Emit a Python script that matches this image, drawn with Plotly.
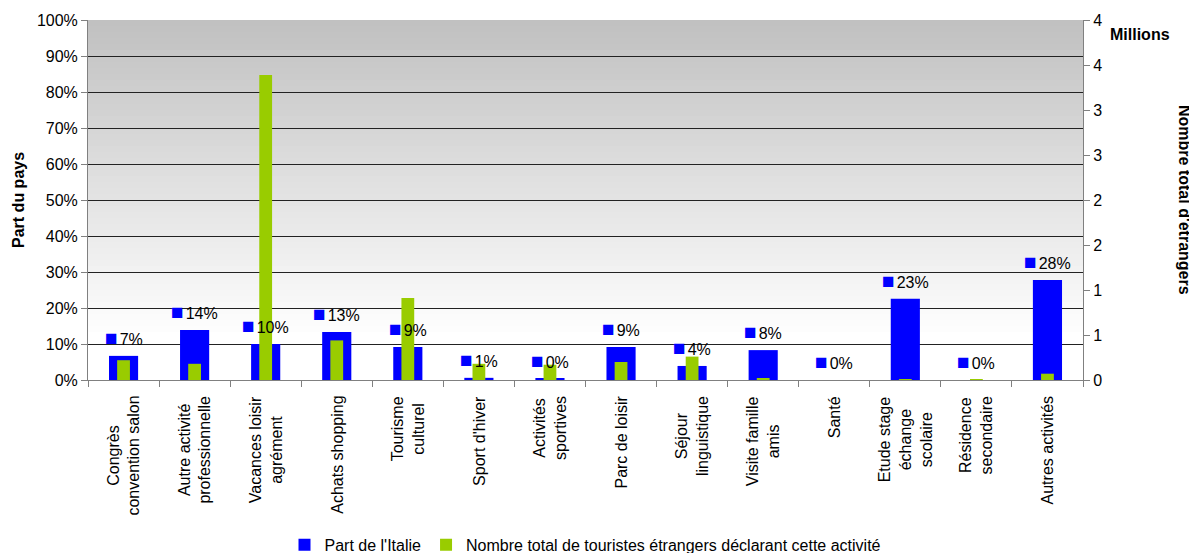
import plotly.graph_objects as go

categories = [
    "Congrès<br>convention salon",
    "Autre activité<br>professionnelle",
    "Vacances loisir<br>agrément",
    "Achats shopping",
    "Tourisme<br>culturel",
    "Sport d'hiver",
    "Activités<br>sportives",
    "Parc de loisir",
    "Séjour<br>linguistique",
    "Visite famille<br>amis",
    "Santé",
    "Etude stage<br>échange<br>scolaire",
    "Résidence<br>secondaire",
    "Autres activités",
]

# part de l'Italie (fraction)
part_italie = [0.067, 0.139, 0.100, 0.133, 0.092, 0.006, 0.003,
               0.092, 0.039, 0.083, 0.0, 0.226, 0.0, 0.278]

# nombre total de touristes étrangers (millions)
total_etrangers = [0.22, 0.18, 3.39, 0.44, 0.91, 0.18, 0.17,
                   0.20, 0.26, 0.02, 0.0, 0.005, 0.003, 0.07]

right_tickvals = [0, 0.5, 1, 1.5, 2, 2.5, 3, 3.5, 4]
right_ticktext = ["0", "1", "1", "2", "2", "3", "3", "4", "4"]

FONT = "Liberation Sans, Arial, sans-serif"
BLUE = "#0000FF"
GREEN = "#99CC00"

fig = go.Figure()

fig.add_trace(go.Bar(
    x=categories, y=part_italie, name="Part de l'Italie",
    marker=dict(color=BLUE, line=dict(width=0)), width=0.41,
    yaxis="y",
))
fig.add_trace(go.Bar(
    x=categories, y=total_etrangers,
    name="Nombre total de touristes étrangers déclarant cette activité",
    marker=dict(color=GREEN, line=dict(width=0)), width=0.18,
    yaxis="y2",
))

# data labels with legend key
for cat, v in zip(categories, part_italie):
    fig.add_annotation(
        x=cat, y=v, xref="x", yref="y", yanchor="bottom", yshift=5,
        text=(f'<span style="color:{BLUE};font-size:21px">■</span>'
              f'<span style="font-size:7px"> </span>{v:.0%}'),
        showarrow=False, font=dict(size=16, color="#000000", family=FONT),
    )

# category labels, rotated and centred line by line
for cat in categories:
    fig.add_annotation(
        x=cat, y=0, xref="x", yref="y", yanchor="top", xanchor="center",
        yshift=-14, text=cat, textangle=-90, align="center",
        showarrow=False, font=dict(size=16, color="#000000", family=FONT),
    )

# gradient background of the plot area
n = 60
for i in range(n):
    f = (i + 0.5) / n
    t = max(0.0, (f - 0.12) / 0.88)
    g = round(255 - 63 * t)
    fig.add_shape(
        type="rect", xref="paper", yref="paper",
        x0=0, x1=1, y0=i / n, y1=(i + 1) / n,
        fillcolor=f"rgb({g},{g},{g})", line=dict(width=0), layer="below",
    )

fig.add_annotation(
    x=-0.0704, y=0.5, xref="paper", yref="paper", text="<b>Part du pays</b>",
    xanchor="center", yanchor="middle",
    textangle=-90, showarrow=False, font=dict(size=16, family=FONT, color="#000"),
)
fig.add_annotation(
    x=1.1025, y=0.5, xref="paper", yref="paper",
    text="<b>Nombre total d'étrangers</b>", xanchor="center", yanchor="middle",
    textangle=90, showarrow=False, font=dict(size=16, family=FONT, color="#000"),
)
fig.add_annotation(
    x=1.057, y=0.961, xref="paper", yref="paper", text="<b>Millions</b>",
    xanchor="center", yanchor="middle",
    showarrow=False, font=dict(size=16, family=FONT, color="#000"),
)

# page body keeps an 8px margin, so the figure is 8px smaller each way
fig.update_layout(
    width=1189, height=545,
    margin=dict(l=80, r=114, t=12, b=173, autoexpand=False),
    paper_bgcolor="white", plot_bgcolor="rgba(0,0,0,0)",
    barmode="overlay", bargap=0.2,
    font=dict(family=FONT, size=16, color="#000"),
    showlegend=True,
    legend=dict(
        orientation="h", x=0.5, xanchor="center", y=-0.458, yanchor="middle",
        font=dict(size=16), itemwidth=30, tracegroupgap=0,
    ),
    xaxis=dict(
        tickson="boundaries", ticks="outside", ticklen=6,
        tickcolor="#808080", showline=True, linecolor="#808080",
        showgrid=False, showticklabels=False, automargin=False,
    ),
    yaxis=dict(
        range=[0, 1], dtick=0.1, tickformat=".0%",
        ticks="outside", ticklen=6, tickcolor="#808080",
        showline=True, linecolor="#808080", mirror=False,
        showgrid=True, gridcolor="#222222", gridwidth=1,
        zeroline=False, tickfont=dict(size=16), automargin=False,
    ),
    yaxis2=dict(
        range=[0, 4], overlaying="y", side="right",
        tickvals=right_tickvals, ticktext=right_ticktext,
        ticks="outside", ticklen=6, tickcolor="#808080",
        showline=True, linecolor="#808080", showgrid=False,
        zeroline=False, tickfont=dict(size=16), automargin=False,
    ),
)

fig.write_html("out.html")
